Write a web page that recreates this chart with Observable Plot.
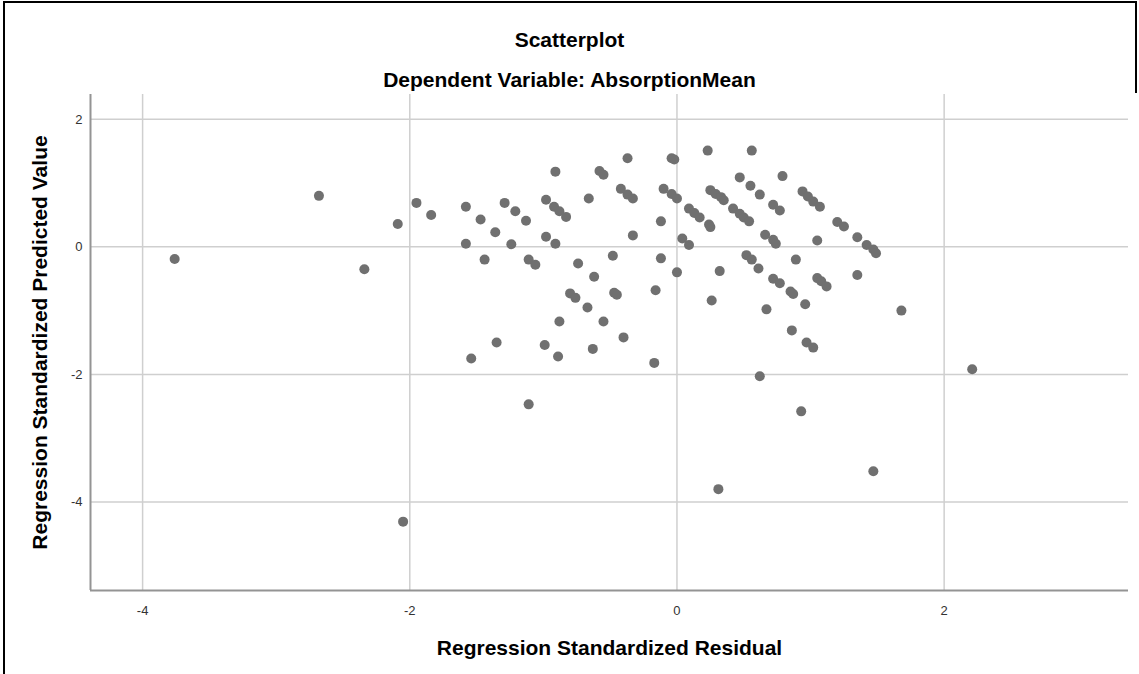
<!DOCTYPE html>
<html>
<head>
<meta charset="utf-8">
<script src="https://cdn.jsdelivr.net/npm/d3@7"></script>
<script src="https://cdn.jsdelivr.net/npm/@observablehq/plot@0.6"></script>
<style>
  html, body { margin: 0; padding: 0; background: #fff; }
  #wrap { position: relative; width: 1139px; height: 674px; overflow: hidden; font-family: "Liberation Sans", Arial, sans-serif; }
  .title { position: absolute; left: 0; width: 1139px; text-align: center; font-weight: bold; font-size: 21px; color: #000; line-height: 24px; }
  .bl { position: absolute; left: 3px; top: 1px; width: 2px; height: 673px; background: #000; }
  .bt { position: absolute; left: 3px; top: 1px; width: 1134px; height: 2px; background: #000; }
  .br { position: absolute; left: 1135px; top: 1px; width: 2px; height: 92px; background: #000; }
  #chart { position: absolute; left: 0; top: 0; }
</style>
</head>
<body>
<div id="wrap">
  <div id="chart"></div>
  <div class="bt"></div>
  <div class="bl"></div>
  <div class="br"></div>
  <div class="title" id="t1" style="top:28px"></div>
  <div class="title" id="t2" style="top:68px"></div>
</div>
<script>
const title = "Scatterplot";
const subtitle = "Dependent Variable: AbsorptionMean";
const xLabel = "Regression Standardized Residual";
const yLabel = "Regression Standardized Predicted Value";
const xTicks = [-4, -2, 0, 2];
const yTicks = [2, 0, -2, -4];

// Regression standardized residual (x) for each case
const residual = [
  -3.76, -2.68, -2.34, -2.09, -1.95, -1.84, -2.05,
  -1.58, -1.58, -1.47, -1.44, -1.36, -1.29, -1.24, -1.21, -1.13, -1.11, -1.06, -1.11,
  -0.98, -0.92, -0.88, -0.83, -0.91, -0.98, -0.91, -0.74, -0.66, -0.62, -0.80, -0.76,
  -0.67, -0.88, -0.55, -1.35, -1.54, -0.99, -0.89, -0.63, -0.40, -0.17, -0.48, -0.47,
  -0.45, -0.58, -0.55, -0.37, -0.42, -0.37, -0.33, -0.33, -0.12, -0.12, -0.16, -0.04,
  -0.02, -0.10, -0.04, 0.00, 0.00, 0.04, 0.09, 0.09, 0.13, 0.17, 0.24, 0.25, 0.23,
  0.25, 0.29, 0.33, 0.35, 0.32, 0.26, 0.42, 0.47, 0.50, 0.54, 0.47, 0.55, 0.56, 0.52,
  0.56, 0.62, 0.61, 0.62,
  0.79, 0.72, 0.77, 0.94, 0.98, 1.02, 1.07, 1.20, 1.25, 1.35, 1.42, 1.47, 1.49, 0.66,
  0.72, 0.74, 1.05, 0.72, 0.77, 0.85, 0.87, 0.89, 1.05, 1.08, 1.12, 1.35, 0.96, 0.67,
  1.68, 0.86, 0.97, 1.02, 2.21, 0.93, 1.47, 0.31
];
// Regression standardized predicted value (y) for each case
const predicted = [
  -0.19, 0.80, -0.35, 0.36, 0.69, 0.50, -4.31,
  0.63, 0.05, 0.43, -0.20, 0.23, 0.69, 0.04, 0.56, 0.41, -0.20, -0.28, -2.47,
  0.74, 0.63, 0.56, 0.47, 1.18, 0.16, 0.05, -0.26, 0.76, -0.47, -0.73, -0.80,
  -0.95, -1.17, -1.17, -1.50, -1.75, -1.54, -1.72, -1.60, -1.42, -1.82, -0.14, -0.72,
  -0.75, 1.19, 1.13, 1.39, 0.91, 0.82, 0.76, 0.18, 0.40, -0.18, -0.68, 1.39,
  1.37, 0.91, 0.83, 0.76, -0.40, 0.13, 0.03, 0.60, 0.53, 0.46, 0.35, 0.31, 1.51,
  0.89, 0.83, 0.78, 0.73, -0.38, -0.84, 0.60, 0.52, 0.46, 0.40, 1.09, 0.96, 1.51, -0.13,
  -0.20, 0.82, -0.34, -2.03,
  1.11, 0.66, 0.57, 0.87, 0.79, 0.71, 0.63, 0.39, 0.32, 0.15, 0.03, -0.04, -0.10, 0.19,
  0.11, 0.05, 0.10, -0.50, -0.57, -0.70, -0.74, -0.20, -0.49, -0.54, -0.62, -0.44, -0.90, -0.98,
  -1.00, -1.31, -1.50, -1.58, -1.92, -2.58, -3.52, -3.80
];

document.getElementById("t1").textContent = title;
document.getElementById("t2").textContent = subtitle;

const data = residual.map((x, i) => ({x, y: predicted[i]}));

const chart = Plot.plot({
  width: 1139,
  height: 674,
  marginLeft: 90,
  marginRight: 11,
  marginTop: 94,
  marginBottom: 84,
  style: { fontFamily: "Liberation Sans, Arial, sans-serif", background: "transparent" },
  x: { domain: [-4.39, 3.38] },
  y: { domain: [-5.39, 2.39] },
  marks: [
    Plot.ruleX(xTicks, { stroke: "#cfcfcf", strokeWidth: 1.5 }),
    Plot.ruleY(yTicks, { stroke: "#cfcfcf", strokeWidth: 1.5 }),
    Plot.axisX(xTicks, { tickSize: 0, tickPadding: 15, fontSize: 13, color: "#333", label: null, tickFormat: d => String(d) }),
    Plot.axisY(yTicks, { tickSize: 0, tickPadding: 8, fontSize: 13, color: "#333", label: null, tickFormat: d => String(d) }),
    Plot.ruleX([-4.39], { stroke: "#949494", strokeWidth: 2 }),
    Plot.ruleY([-5.39], { stroke: "#949494", strokeWidth: 2 }),
    Plot.dot(data, { x: "x", y: "y", r: 5, fill: "#707070", stroke: "none" }),
    Plot.text([xLabel], { frameAnchor: "bottom", textAnchor: "middle", lineAnchor: "middle", dy: 58, fontSize: 21, fontWeight: "bold", fill: "#000" }),
    Plot.text([yLabel], { frameAnchor: "left", textAnchor: "middle", lineAnchor: "middle", dx: -50, rotate: -90, fontSize: 21, fontWeight: "bold", fill: "#000" })
  ]
});
document.getElementById("chart").appendChild(chart);
</script>
</body>
</html>
